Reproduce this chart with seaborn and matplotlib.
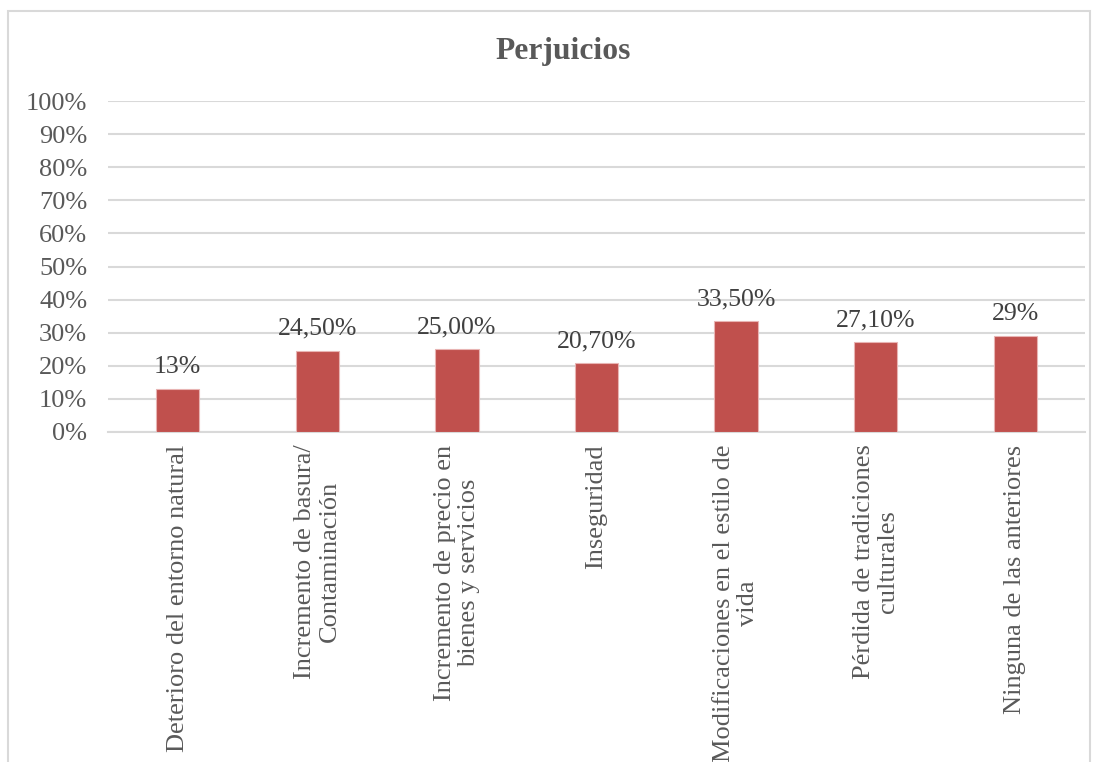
import matplotlib
matplotlib.use("Agg")
import matplotlib.pyplot as plt
import seaborn as sns
import pandas as pd
from matplotlib.patches import Rectangle

categories = [
    "Deterioro del entorno natural",
    "Incremento de basura/\nContaminación",
    "Incremento de precio en\nbienes y servicios",
    "Inseguridad",
    "Modificaciones en el estilo de\nvida",
    "Pérdida de tradiciones\nculturales",
    "Ninguna de las anteriores",
]
values = [13.0, 24.5, 25.0, 20.7, 33.5, 27.1, 29.0]
value_labels = ["13%", "24,50%", "25,00%", "20,70%", "33,50%", "27,10%", "29%"]
yticks = [0, 10, 20, 30, 40, 50, 60, 70, 80, 90, 100]
ytick_labels = ["0%", "10%", "20%", "30%", "40%", "50%", "60%", "70%", "80%", "90%", "100%"]
title = "Perjuicios"

sns.set_style("white")
plt.rcParams["font.family"] = ["Liberation Serif", "DejaVu Serif"]

fig = plt.figure(figsize=(11.03, 7.62), dpi=100)
ax = fig.add_axes([108 / 1103, 1 - 432 / 762, (1085 - 108) / 1103, (432 - 101) / 762])

df = pd.DataFrame({"cat": categories, "val": values})
sns.barplot(data=df, x="cat", y="val", color="#c0504d", saturation=1, width=0.31,
            edgecolor="#e8b4b3", linewidth=0.8, ax=ax, zorder=3)

ax.set_ylim(0, 100)
ax.set_xlim(-0.5, len(categories) - 0.5)
ax.set_yticks(yticks)
ax.set_yticklabels(ytick_labels, fontsize=19, color="#595959")
ax.set_xticks(range(len(categories)))
ax.set_xticklabels(categories, rotation=90, fontsize=19, color="#595959",
                   ha="center", va="top", multialignment="center", linespacing=1.12)
ax.tick_params(axis="y", length=0, pad=15)
ax.tick_params(axis="x", length=0, pad=9)
ax.set_xlabel("")
ax.set_ylabel("")

ax.yaxis.grid(True, color="#d9d9d9", linewidth=1.5, zorder=0)
ax.xaxis.grid(False)
for s in ["top", "right", "left"]:
    ax.spines[s].set_visible(False)
ax.spines["bottom"].set_color("#d9d9d9")
ax.spines["bottom"].set_linewidth(1.5)

for i, (v, lab) in enumerate(zip(values, value_labels)):
    ax.annotate(lab, (i, v), xytext=(0, 8), textcoords="offset points",
                ha="center", va="bottom", fontsize=18.5, color="#404040")

fig.text(563 / 1103, 1 - 52 / 762, title, ha="center", va="center",
         fontsize=22.7, fontweight="bold", color="#595959", family="Liberation Serif")

fig.patches.append(Rectangle((8 / 1103, -0.02), (1090 - 8) / 1103, (762 - 11) / 762 + 0.02,
                             transform=fig.transFigure, fill=False,
                             edgecolor="#d9d9d9", linewidth=1.5))

fig.savefig("out.png", dpi=100, facecolor="white")
